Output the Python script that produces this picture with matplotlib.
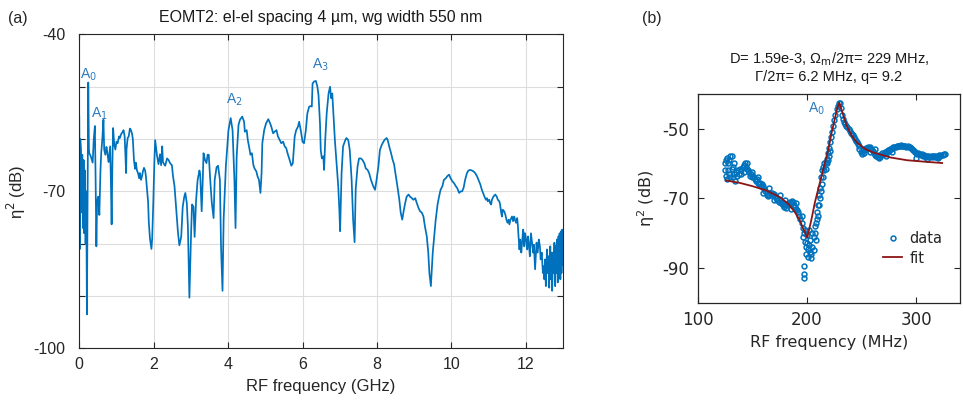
import numpy as np
import matplotlib
matplotlib.use("Agg")
import matplotlib.pyplot as plt

plt.rcParams["axes.unicode_minus"] = False

# ---------------- data: panel (a) ----------------
freq_ghz = [
    0.000, 0.018, 0.027, 0.045, 0.063, 0.081, 0.099, 0.117, 0.135, 0.153, 0.170, 0.188, 0.206, 0.224, 0.242, 0.26,
    0.27, 0.31, 0.36, 0.39, 0.42, 0.44, 0.46, 0.48, 0.51, 0.54, 0.57, 0.59, 0.62, 0.65, 0.67, 0.70, 0.73, 0.74,
    0.77, 0.79, 0.83, 0.85, 0.87, 0.89, 0.91, 0.94, 0.97, 1.00, 1.03, 1.07, 1.09, 1.13, 1.17, 1.19, 1.22, 1.24,
    1.26, 1.27, 1.30, 1.33, 1.36, 1.39, 1.42, 1.44, 1.47, 1.50, 1.52, 1.55, 1.58, 1.61, 1.63, 1.66, 1.69, 1.71,
    1.74, 1.77, 1.79, 1.82, 1.85, 1.87, 1.90, 1.94, 1.96, 1.99, 2.02, 2.04,
    2.09, 2.13, 2.17, 2.20, 2.23, 2.25, 2.28, 2.31, 2.36, 2.40, 2.44, 2.49, 2.52, 2.56, 2.60, 2.65, 2.69, 2.74,
    2.78, 2.82, 2.85, 2.89, 2.92, 2.96, 3.00, 3.03, 3.07, 3.10, 3.14, 3.18, 3.23, 3.25, 3.29, 3.32, 3.34, 3.38,
    3.42, 3.45, 3.48, 3.52, 3.56, 3.61, 3.64, 3.69, 3.73, 3.78, 3.81, 3.85, 3.88, 3.94, 4.01, 4.07, 4.12, 4.17,
    4.20, 4.23, 4.28,
    4.32, 4.38, 4.43, 4.45, 4.50, 4.53, 4.58, 4.60, 4.64, 4.68, 4.71, 4.76, 4.79, 4.83, 4.87, 4.90, 4.92, 4.97,
    5.02, 5.08, 5.13, 5.16, 5.21, 5.25, 5.30, 5.34, 5.39, 5.43, 5.48, 5.52, 5.56, 5.61, 5.65, 5.70, 5.74, 5.79,
    5.83, 5.88, 5.91, 5.96, 6.00, 6.04,
    6.09, 6.13, 6.18, 6.22, 6.25, 6.27, 6.31, 6.36, 6.40, 6.43, 6.47, 6.49, 6.52, 6.56, 6.58, 6.61, 6.65, 6.70,
    6.74, 6.77, 6.80, 6.83, 6.87, 6.91, 6.96, 6.99, 7.01, 7.05, 7.09, 7.15, 7.18, 7.23, 7.27, 7.32, 7.36, 7.40,
    7.43, 7.48, 7.52, 7.57, 7.61, 7.66, 7.70, 7.75, 7.79, 7.84, 7.90, 7.95, 7.99, 8.04, 8.08, 8.13, 8.20, 8.26,
    8.29, 8.33, 8.38, 8.42, 8.46, 8.51, 8.55, 8.60, 8.64, 8.68, 8.71, 8.76, 8.80, 8.85, 8.89, 8.94, 8.98, 9.03,
    9.07, 9.12, 9.16, 9.21, 9.25, 9.29, 9.34, 9.38, 9.41, 9.45, 9.47, 9.50, 9.54, 9.58, 9.63, 9.67, 9.71, 9.76,
    9.80, 9.85, 9.89, 9.94, 9.98, 10.03, 10.07, 10.12, 10.16, 10.21, 10.25, 10.29, 10.33,
    10.37, 10.42, 10.46, 10.51, 10.55, 10.60, 10.64, 10.69, 10.73, 10.78, 10.82, 10.87, 10.89, 10.93, 10.96, 10.98,
    11.02, 11.04, 11.07, 11.09, 11.13, 11.18, 11.22, 11.25, 11.29, 11.31, 11.34, 11.36, 11.38, 11.42, 11.45, 11.48,
    11.51, 11.54, 11.56, 11.59, 11.63, 11.66, 11.69, 11.71, 11.74, 11.77, 11.79, 11.80, 11.83, 11.85, 11.88, 11.90,
    11.93, 11.95, 11.96, 11.98, 12.01, 12.04, 12.06, 12.09, 12.11, 12.13, 12.14, 12.17, 12.20, 12.22, 12.25, 12.27,
    12.29, 12.32, 12.35, 12.38, 12.40, 12.43, 12.46, 12.48, 12.50, 12.52, 12.54, 12.55, 12.57, 12.59, 12.61, 12.63,
    12.64, 12.66, 12.68, 12.70, 12.71, 12.73, 12.75, 12.77, 12.79, 12.80, 12.82, 12.84, 12.86, 12.88, 12.89, 12.91,
    12.93, 12.95, 12.96, 12.98, 13.00,
]
eta_db = [
    -55.7, -81.0, -60.0, -62.0, -74.0, -63.0, -77.0, -64.0, -78.0, -66.0, -80.0, -70.0, -93.5, -72.0, -49.2, -62.0,
    -62.7, -63.3, -64.5, -60.0, -57.5, -68.0, -80.5, -72.0, -71.0, -74.5, -66.0, -62.7, -60.0, -56.3, -62.0, -63.0, -61.5, -61.8,
    -63.5, -64.4, -61.4, -68.0, -76.3, -65.0, -57.9, -61.0, -62.0, -60.5, -60.8, -59.5, -59.8, -59.0, -58.6, -58.3, -59.5, -63.0,
    -66.5, -62.0, -59.8, -59.5, -58.0, -58.3, -59.0, -60.0, -64.0, -65.7, -64.5, -66.0, -66.5, -67.5, -66.5, -67.8, -67.0, -66.2,
    -65.5, -66.0, -67.0, -69.5, -72.0, -76.0, -79.0, -81.0, -79.0, -72.0, -64.0, -60.2,
    -63.2, -64.8, -62.9, -65.0, -61.4, -64.4, -64.8, -65.1, -63.7, -64.0, -64.6, -65.0, -67.1, -69.0, -72.9, -77.6, -80.3, -78.7,
    -73.0, -71.1, -70.3, -72.2, -76.7, -90.3, -79.4, -72.5, -72.9, -78.7, -71.7, -67.9, -66.0, -66.7, -73.8, -67.6, -62.7, -64.0,
    -64.6, -63.0, -63.0, -67.8, -72.0, -75.1, -67.8, -65.4, -65.1, -67.8, -80.6, -89.0, -75.4, -65.2, -58.3, -56.0, -58.3, -67.8,
    -77.0, -63.4, -57.3,
    -56.3, -55.7, -56.7, -58.6, -58.3, -60.2, -62.1, -63.0, -62.7, -65.0, -65.6, -66.2, -67.1, -67.8, -70.3, -66.5, -60.8, -58.3,
    -57.0, -56.2, -57.0, -57.6, -58.9, -58.6, -58.3, -59.5, -60.2, -60.8, -60.5, -61.4, -61.7, -63.0, -63.9, -65.1, -64.6, -59.5,
    -58.3, -57.6, -56.7, -58.6, -60.5, -60.8,
    -58.3, -55.1, -53.8, -53.7, -53.8, -49.4, -49.0, -48.9, -50.0, -51.6, -57.0, -62.1, -63.7, -63.3, -65.9, -60.2, -55.1, -51.3,
    -50.0, -52.2, -51.3, -55.1, -60.2, -64.0, -69.0, -73.5, -77.6, -66.5, -61.4, -60.2, -59.8, -60.2, -62.1, -67.8, -75.4, -79.7,
    -69.5, -65.2, -63.7, -63.7, -64.0, -64.6, -65.6, -65.9, -66.5, -67.8, -69.0, -69.7, -67.8, -65.2, -62.1, -61.1, -60.2, -59.8,
    -60.2, -61.4, -62.7, -63.9, -64.8, -67.1, -69.0, -71.5, -74.1, -75.4, -74.1, -72.2, -71.0, -70.6, -71.0, -71.3, -71.6, -71.3,
    -72.2, -73.2, -73.8, -74.1, -74.8, -76.7, -78.6, -81.7, -85.6, -88.1, -85.6, -81.7, -78.6, -75.4, -72.5, -71.0, -69.7, -69.0,
    -67.8, -67.5, -67.1, -66.8, -67.5, -68.1, -68.4, -69.0, -69.4, -70.3, -70.0, -70.0, -69.3,
    -67.8, -66.5, -66.0, -65.9, -66.0, -66.2, -66.5, -67.1, -67.8, -68.7, -69.7, -70.6, -71.0, -71.6, -71.3, -71.9,
    -71.6, -72.2, -72.5, -71.6, -71.0, -70.6, -71.0, -71.6, -71.9, -72.5, -74.1, -74.8, -73.5, -73.8, -74.4, -75.4,
    -76.0, -75.4, -76.3, -75.4, -74.8, -75.7, -74.8, -75.4, -76.0, -75.1, -76.7, -78.0, -81.1, -79.2, -81.7, -79.8,
    -77.3, -78.6, -80.5, -78.0, -79.2, -81.1, -78.6, -80.5, -82.4, -79.2, -78.0, -79.8, -81.7, -80.2, -84.9, -82.4,
    -79.8, -81.7, -79.2, -80.5, -83.0, -81.7, -85.6, -84.3, -86.8, -83.0, -88.1, -85.6, -81.1, -85.6, -82.4, -88.4,
    -83.0, -80.5, -86.8, -81.7, -89.0, -81.7, -85.6, -79.8, -88.1, -80.5, -85.6, -79.2, -87.4, -78.6, -86.2, -78.0,
    -86.8, -77.6, -85.6, -77.3, -84.0,
]
mode_labels_a = ["A$_0$", "A$_1$", "A$_2$", "A$_3$"]
mode_pos_ghz = [0.26, 0.54, 4.16, 6.47]
mode_pos_db = [-47.8, -55.1, -52.5, -45.9]

# ---------------- data: panel (b) ----------------
meas_mhz = np.arange(125, 327)
meas_db = [
    -60.0, -63.5, -58.5, -62.0, -59.0, -64.0, -58.0, -61.0, -63.0, -65.0, -62.5, -63.5, -62.0, -63.0, -61.5, -62.0,
    -61.0, -60.5, -60.0, -61.0, -61.5, -62.0, -62.5, -63.5, -63.0, -64.0, -63.5, -64.5, -65.0, -64.5, -65.5, -66.0,
    -65.5, -66.5, -66.0, -66.5, -67.5, -68.0, -69.0, -69.5, -69.0, -68.5, -69.0, -68.5, -69.0, -68.8, -69.5, -70.0,
    -70.5, -71.0, -70.5, -71.5, -71.0, -72.0, -72.5, -72.0, -72.8, -72.0, -71.5, -71.0, -71.5, -70.8, -71.2, -72.0,
    -72.5, -73.0, -73.5, -74.0, -75.0, -76.0, -77.0, -78.5, -80.0, -82.5, -84.0, -83.0, -84.5, -83.5, -82.0, -86.0,
    -84.0, -81.0, -80.0, -77.0, -76.0, -72.0, -69.0, -67.0, -64.0, -62.0, -61.0, -60.0, -59.5, -58.8, -57.0, -55.5,
    -54.0, -52.5, -51.0, -49.3, -47.5, -46.0, -44.5, -43.5, -42.8, -42.7, -44.0, -46.0, -47.4, -48.2, -48.8, -49.2,
    -49.6, -50.0, -50.6, -51.2, -51.7, -52.0, -52.5, -53.0, -53.5, -54.0, -54.5, -56.0, -56.8, -57.3, -56.5, -56.0,
    -55.8, -55.5, -55.8, -55.4, -55.6, -55.4, -56.0, -56.5, -57.0, -57.5, -57.8, -58.0, -58.3, -58.5, -58.3, -57.5,
    -57.0, -57.2, -56.8, -57.0, -56.5, -56.2, -56.4, -56.0, -55.8, -55.6, -55.4, -55.2, -55.3, -55.0, -55.1, -54.9,
    -55.0, -54.8, -55.0, -54.9, -55.1, -55.0, -55.2, -55.1, -55.3, -55.4, -55.6, -55.8, -56.2, -56.5, -56.8, -57.0,
    -57.3, -57.1, -57.4, -57.6, -57.3, -57.8, -57.5, -57.9, -58.2, -57.8, -58.0, -58.3, -57.9, -58.1, -57.8, -58.0,
    -58.3, -57.9, -58.1, -57.8, -57.6, -57.9, -57.7, -57.5, -57.3, -57.2,
]
extra_mhz = [125, 126, 127, 128, 129, 130, 131, 132, 133, 140, 142, 145, 150, 155, 160, 165, 170, 175, 180, 185,
             190, 195, 196, 197, 197, 197, 198, 199, 200, 201, 202, 203, 204, 205, 206, 207, 208, 209, 210, 211,
             212, 213, 214, 215, 216, 217, 218, 219, 220, 221, 248, 252, 258, 262, 266, 272, 278, 300, 310, 320]
extra_db = [-62.0, -59.0, -64.5, -60.0, -63.0, -58.0, -61.5, -64.0, -60.0, -63.0, -62.5, -60.0, -62.5, -64.0,
            -68.5, -67.0, -70.5, -69.0, -70.5, -73.0, -71.5, -75.0, -81.0, -89.6, -91.7, -92.9, -79.0, -86.0,
            -80.5, -87.0, -79.0, -85.5, -87.2, -80.0, -85.0, -78.0, -82.0, -74.0, -75.0, -72.0, -70.0, -68.0,
            -66.0, -64.0, -62.0, -61.5, -60.0, -59.0, -58.0, -56.5, -55.0, -57.0, -56.8, -56.0, -57.5, -57.8,
            -56.8, -58.5, -58.8, -58.4]
fit_mhz = [125.7, 138.5, 150.7, 162.9, 175.2, 182.8, 188.9, 193.5, 196.6, 200.3, 204.2, 207.3, 211.9, 216.5,
           219.6, 222.6, 225.7, 227.8, 229.6, 233.4, 236.4, 241.0, 245.6, 253.3, 260.9, 276.2, 291.5, 306.8, 323.6]
fit_db = [-64.9, -65.6, -66.6, -67.8, -69.7, -71.6, -74.0, -76.4, -78.8, -81.3, -75.9, -71.1, -65.4, -59.7,
          -55.9, -51.1, -46.9, -44.0, -42.6, -46.4, -49.3, -52.1, -54.0, -55.9, -56.9, -58.3, -59.1, -59.5, -59.9]

blue = "#0072BD"
red = "#8C1414"
dark = "#262626"

fig = plt.figure(figsize=(9.63, 4.03), dpi=100)

# ---------------- panel (a) ----------------
ax1 = fig.add_axes([0.0823, 0.1355, 0.5023, 0.7792])
ax1.plot(freq_ghz, eta_db, color=blue, lw=1.25)
ax1.set_xlim(0, 13)
ax1.set_ylim(-100, -40)
ax1.set_xticks([0, 2, 4, 6, 8, 10, 12])
ax1.set_yticks([-100, -90, -80, -70, -60, -50, -40])
ax1.set_yticklabels(["-100", "", "", "-70", "", "", "-40"])
ax1.grid(True, color="#dddddd", lw=0.8)
ax1.set_axisbelow(True)
for s in ax1.spines.values():
    s.set_color(dark)
    s.set_linewidth(0.8)
ax1.tick_params(direction="in", top=True, right=True, length=4, width=0.8,
                labelsize=11.5, colors=dark)
ax1.tick_params(axis="y", pad=10)
ax1.tick_params(axis="x", pad=6.5)
for lab in ax1.get_xticklabels() + ax1.get_yticklabels():
    lab.set_family("Liberation Sans")
ax1.set_xlabel("RF frequency (GHz)", fontsize=12, family="Liberation Sans", color=dark, labelpad=5)
ax1.set_ylabel("η$^2$ (dB)", fontsize=12, family="Liberation Sans", color=dark, labelpad=4)
ax1.set_title("EOMT2: el-el spacing 4 µm, wg width 550 nm", fontsize=11.5,
              family="Liberation Sans", color="#1a1a1a", pad=9)
for lab, xg, yd in zip(mode_labels_a, mode_pos_ghz, mode_pos_db):
    ax1.text(xg, yd, lab, color="#2c7bbf", fontsize=10, ha="center", va="center",
             family="Liberation Sans")

# ---------------- panel (b) ----------------
ax2 = fig.add_axes([0.7245, 0.2489, 0.2724, 0.5186])
ax2.plot(meas_mhz, meas_db, "o", ms=3.5, mfc="none", mec=blue, mew=1.1, label="data")
ax2.plot(extra_mhz, extra_db, "o", ms=3.5, mfc="none", mec=blue, mew=1.1)
ax2.plot(fit_mhz, fit_db, color=red, lw=1.3, label="fit")
ax2.set_xlim(100, 340)
ax2.set_ylim(-100, -40)
ax2.set_xticks([100, 200, 300])
ax2.set_yticks([-90, -70, -50])
for s in ax2.spines.values():
    s.set_color(dark)
    s.set_linewidth(0.9)
ax2.tick_params(direction="in", top=True, right=True, length=4, width=0.8,
                labelsize=12, colors=dark, pad=6)
ax2.set_xlabel("RF frequency (MHz)", fontsize=11.5, color=dark, labelpad=4)
ax2.set_ylabel("η$^2$ (dB)", fontsize=11.5, color=dark, labelpad=4)
ax2.set_title("D= 1.59e-3, Ω$_{\\rm m}$/2π= 229 MHz,\nΓ/2π= 6.2 MHz, q= 9.2",
              fontsize=10.5, family="Liberation Sans", color="#1a1a1a", pad=9)
ax2.text(209, -44.3, "A$_0$", color="#2c7bbf", fontsize=10, ha="center", va="center",
         family="Liberation Sans")
leg = ax2.legend(loc="lower left", bbox_to_anchor=(0.685, 0.15), frameon=False, fontsize=10.5,
                 handlelength=1.3, handletextpad=0.5, labelspacing=0.3, borderaxespad=0)
for t in leg.get_texts():
    t.set_color(dark)

fig.text(0.008, 0.955, "(a)", fontsize=11.5, family="Liberation Sans", color=dark, va="center")
fig.text(0.667, 0.955, "(b)", fontsize=11.5, family="Liberation Sans", color=dark, va="center")

fig.savefig("out.png", dpi=100)
